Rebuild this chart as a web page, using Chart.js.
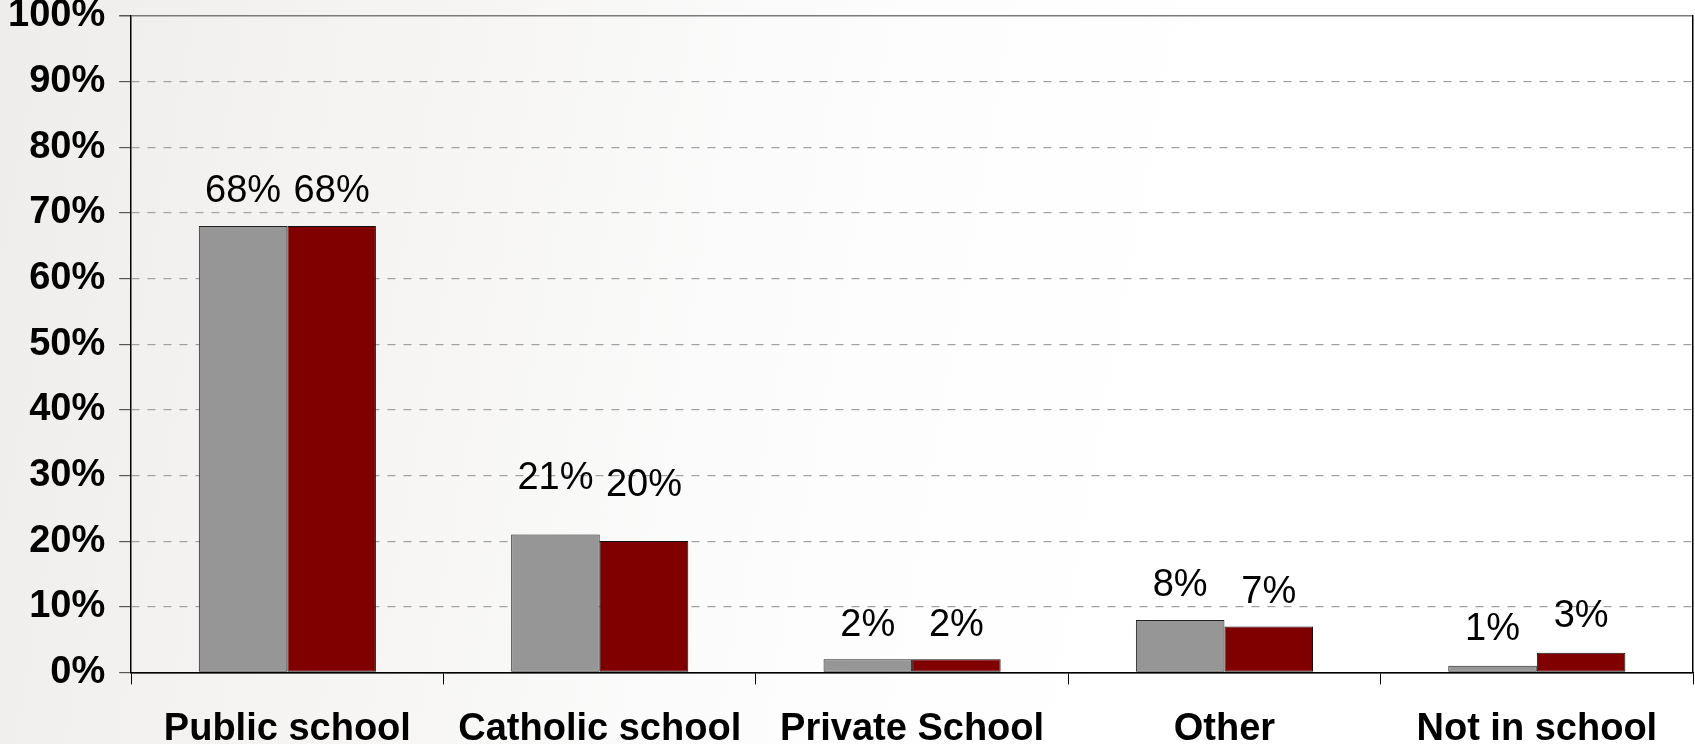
<!DOCTYPE html>
<html>
<head>
<meta charset="utf-8">
<script src="https://cdn.jsdelivr.net/npm/chart.js@4.4.0/dist/chart.umd.min.js"></script>
<style>
    html, body {
        margin: 0;
        padding: 0;
        width: 1695px;
        height: 744px;
        overflow: hidden;
        background: linear-gradient(100deg, #efedeb 0%, #f6f5f4 25%, #fdfdfd 50%, #ffffff 70%);
    }
    #wrap {
        position: relative;
        width: 1695px;
        height: 744px;
    }
</style>
</head>
<body>
<div id="wrap"><canvas id="schoolChart"></canvas></div>
<script>
// Chart data
const categories = ['Public school', 'Catholic school', 'Private School', 'Other', 'Not in school'];
const greyValues = [68, 21, 2, 8, 1];
const redValues = [68, 20, 2, 7, 3];
const yTicks = [0, 10, 20, 30, 40, 50, 60, 70, 80, 90, 100];

const FONT = '"Liberation Sans", Arial, sans-serif';

// Draws the value labels above each bar
const valueLabels = {
    id: 'valueLabels',
    afterDatasetsDraw(chart, args, opts) {
        const ctx = chart.ctx;
        ctx.save();
        ctx.font = `38px ${FONT}`;
        ctx.fillStyle = '#000';
        ctx.textAlign = 'center';
        ctx.textBaseline = 'middle';
        chart.data.datasets.forEach((ds, di) => {
            const meta = chart.getDatasetMeta(di);
            meta.data.forEach((bar, i) => {
                const lift = (opts.extraLift && opts.extraLift[i]) || 0;
                ctx.fillText(ds.data[i] + '%', bar.x, bar.y - opts.gap - lift);
            });
        });
        ctx.restore();
    }
};

const ctx = document.getElementById('schoolChart').getContext('2d');

new Chart(ctx, {
    type: 'bar',
    data: {
        labels: categories,
        datasets: [
            {
                label: 'Grey series',
                data: greyValues,
                backgroundColor: '#969696',
                borderColor: '#222',
                borderWidth: 1,
                borderSkipped: false,
                categoryPercentage: 0.567,
                barPercentage: 1.0
            },
            {
                label: 'Red series',
                data: redValues,
                backgroundColor: '#800000',
                borderColor: '#111',
                borderWidth: 1,
                borderSkipped: false,
                categoryPercentage: 0.567,
                barPercentage: 1.0
            }
        ]
    },
    options: {
        responsive: true,
        maintainAspectRatio: false,
        animation: false,
        layout: {
            padding: { left: -6, right: 2, top: 0, bottom: -30 }
        },
        plugins: {
            legend: { display: false },
            tooltip: { enabled: false },
            valueLabels: { gap: 34, extraLift: [0, 22, 0, 0, 2] }
        },
        scales: {
            x: {
                offset: true,
                grid: {
                    offset: true,
                    drawOnChartArea: false,
                    drawTicks: true,
                    tickLength: 12,
                    tickColor: '#000',
                    color: '#000'
                },
                border: { display: true, color: '#000', width: 1.5 },
                ticks: {
                    color: '#000',
                    padding: 22,
                    font: { family: FONT, size: 38, weight: 'bold', lineHeight: 1.2 }
                }
            },
            y: {
                min: 0,
                max: 100,
                afterBuildTicks: (axis) => {
                    axis.ticks = yTicks.map(v => ({ value: v }));
                },
                grid: {
                    color: (c) => {
                        if (!c.tick) return '#000';
                        if (c.tick.value === 0) return '#000';
                        if (c.tick.value === 100) return '#7a7a7a';
                        return '#a0a0a0';
                    },
                    lineWidth: (c) => (c.tick && c.tick.value === 100 ? 1.5 : 1.2),
                    drawTicks: true,
                    tickLength: 12,
                    tickColor: '#555',
                    tickBorderDash: []
                },
                border: {
                    display: true,
                    color: '#000',
                    width: 1.5,
                    dash: (c) => (c.tick && c.tick.value > 0 && c.tick.value < 100 ? [8, 8] : [])
                },
                ticks: {
                    color: '#000',
                    padding: 14,
                    font: { family: FONT, size: 38, weight: 'bold', lineHeight: 0.1 },
                    callback: (v) => v + '%'
                }
            },
            yRight: {
                position: 'right',
                min: 0,
                max: 100,
                grid: { display: false, drawTicks: false },
                ticks: { display: false },
                border: { display: true, color: '#000', width: 1.5 }
            }
        }
    },
    plugins: [valueLabels]
});
</script>
</body>
</html>
